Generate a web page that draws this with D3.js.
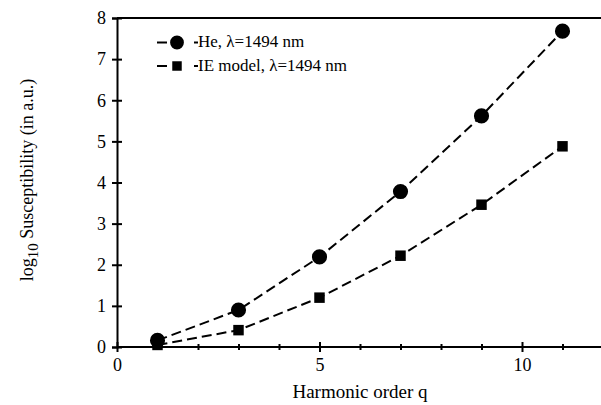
<!DOCTYPE html>
<html>
<head>
<meta charset="utf-8">
<script src="https://cdn.jsdelivr.net/npm/d3@7"></script>
<style>
body { margin: 0; background: #fff; }
</style>
</head>
<body>
<div id="svg"></div>
<script>
// harmonic orders and log10 susceptibility values
let orders = [1, 3, 5, 7, 9, 11]
let heValues = [0.16, 0.9, 2.19, 3.78, 5.62, 7.68]
let ieValues = [0.05, 0.41, 1.2, 2.22, 3.46, 4.88]
let yTicks = [0, 1, 2, 3, 4, 5, 6, 7, 8]
let xTicks = [0, 1, 2, 3, 4, 5, 6, 7, 8, 9, 10, 11]
let xLabels = [0, 5, 10]
let legendLabels = ['He, λ=1494 nm', 'IE model, λ=1494 nm']

let width = 601, height = 405
let font = "'Liberation Serif'"

let svg = d3.select('#svg')
.append('svg')
.attr('width', width)
.attr('height', height)
.style('font-family', font)

let xScale = d3.scaleLinear()
.domain([0, 12])
.range([117, 603])

let yScale = d3.scaleLinear()
.domain([0, 8])
.range([347, 18])

// top frame line
svg.append('line')
.attr('x1', xScale(0)).attr('x2', width)
.attr('y1', yScale(8)).attr('y2', yScale(8))
.style('stroke', '#000')
.style('stroke-width', 2)

// y axis with ticks crossing the line
let yAxis = svg.append('g')
.attr('transform', `translate(${xScale(0)}, 0)`)
.call(d3.axisLeft(yScale).tickValues(yTicks).tickSize(5).tickPadding(6))

yAxis.selectAll('.tick line').attr('x1', 5).style('stroke-width', 2)
yAxis.select('.domain').style('stroke-width', 2)
yAxis.selectAll('text')
.style('font-size', '18px')
.style('font-family', font)
.style('fill', '#000')

// x axis, minor ticks at every integer, labels at 0, 5, 10
let xAxis = svg.append('g')
.attr('transform', `translate(0, ${yScale(0)})`)
.call(d3.axisBottom(xScale).tickValues(xTicks).tickSize(4).tickPadding(7)
	.tickFormat(d => xLabels.includes(d) ? d : ''))

xAxis.selectAll('.tick line')
.attr('y1', d => xLabels.includes(d) ? -5 : -3)
.attr('y2', d => xLabels.includes(d) ? 5 : 3)
.style('stroke-width', 2)
xAxis.select('.domain').attr('d', `M${xScale(0)},0H${width}`).style('stroke-width', 2)
xAxis.selectAll('text')
.style('font-size', '18px')
.style('font-family', font)
.style('fill', '#000')

let series = [
	{name: legendLabels[0], values: heValues, shape: 'circle'},
	{name: legendLabels[1], values: ieValues, shape: 'square'}
]

let line = d3.line()
.x((d, i) => xScale(orders[i]))
.y(d => yScale(d))

svg.selectAll('.series-line')
.data(series)
.join('path')
.attr('class', 'series-line')
.attr('d', d => line(d.values))
.style('fill', 'none')
.style('stroke', '#000')
.style('stroke-width', 2)
.style('stroke-dasharray', '10,5')

let circleSymbol = d3.symbol().type(d3.symbolCircle).size(180)
let squareSymbol = d3.symbol().type(d3.symbolSquare).size(110)

series.forEach(s => {
	svg.selectAll(`.mark-${s.shape}`)
	.data(s.values)
	.join('path')
	.attr('class', `mark-${s.shape}`)
	.attr('transform', (d, i) => `translate(${xScale(orders[i])}, ${yScale(d)})`)
	.attr('d', s.shape == 'circle' ? circleSymbol : squareSymbol)
	.style('fill', '#000')
})

// legend
let legend = svg.selectAll('.legend')
.data(series)
.join('g')
.attr('class', 'legend')
.attr('transform', (d, i) => `translate(157, ${42.5 + i * 23.5})`)

legend.append('line')
.attr('x1', 0).attr('x2', 10)
.style('stroke', '#000').style('stroke-width', 2)

legend.append('line')
.attr('x1', 37).attr('x2', 41)
.style('stroke', '#000').style('stroke-width', 2)

legend.append('path')
.attr('transform', 'translate(20, 0)')
.attr('d', d => d.shape == 'circle' ? d3.symbol().type(d3.symbolCircle).size(150)() : d3.symbol().type(d3.symbolSquare).size(90)())
.style('fill', '#000')

legend.append('text')
.attr('x', 41)
.attr('y', 4.5)
.text(d => d.name)
.style('font-family', font)
.style('font-size', '17px')

svg.append('text')
.attr('x', 360)
.attr('y', 398)
.style('text-anchor', 'middle')
.style('font-family', font)
.style('font-size', '19px')
.text('Harmonic order q')

let yLabel = svg.append('text')
.attr('transform', `translate(33, ${180})rotate(-90)`)
.style('text-anchor', 'middle')
.style('font-family', font)
.style('font-size', '18px')

yLabel.append('tspan').text('log')
yLabel.append('tspan').attr('dy', 5).style('font-size', '15px').text('10')
yLabel.append('tspan').attr('dy', -5).text(' Susceptibility (in a.u.)')
</script>
</body>
</html>
